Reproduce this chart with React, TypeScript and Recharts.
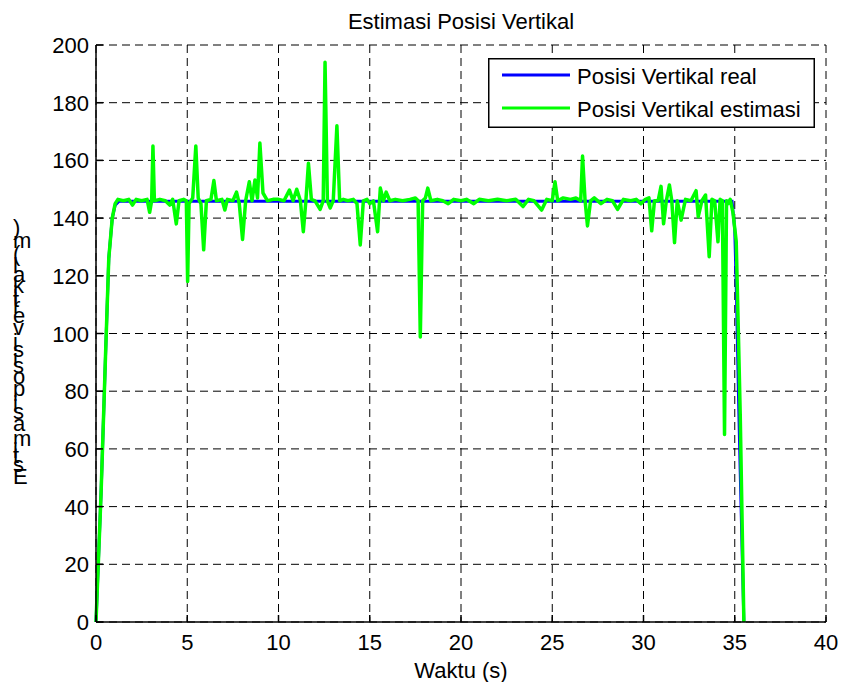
import React from 'react'
import { LineChart, Line, XAxis, YAxis, CartesianGrid, Legend } from 'recharts'

// Posisi Vertikal real (blue)
const realTime = [0, 0.28, 0.52, 0.7, 0.89, 1.05, 1.25, 34.85, 35.0, 35.1, 35.2, 35.3, 35.4, 35.5]
const realPos = [0, 45, 92, 126, 140, 144.5, 145.8, 145.8, 136, 112, 80, 52, 26, 0]

// Posisi Vertikal estimasi (green)
const estTime = [
  0, 0.28, 0.52, 0.7, 0.89, 1.05, 1.2, 1.5, 1.8, 2.0, 2.2, 2.5, 2.8, 2.94, 3.05, 3.12, 3.2, 3.5,
  3.8, 4.04, 4.2, 4.4, 4.55, 4.8, 4.95, 5.02, 5.1, 5.3, 5.47, 5.6, 5.75, 5.9, 6.05, 6.3, 6.46,
  6.6, 6.9, 7.06, 7.2, 7.5, 7.7, 7.85, 8.03, 8.2, 8.4, 8.55, 8.71, 8.85, 8.98, 9.15, 9.4, 9.7,
  10.0, 10.3, 10.6, 10.8, 11.0, 11.2, 11.36, 11.5, 11.64, 11.8, 12.0, 12.28, 12.45, 12.55, 12.68,
  12.83, 13.0, 13.2, 13.35, 13.55, 13.8, 14.1, 14.3, 14.48, 14.65, 14.85, 15.0, 15.2, 15.43,
  15.58, 15.75, 15.9, 16.1, 16.4, 16.8, 17.2, 17.5, 17.65, 17.77, 17.9, 18.05, 18.18, 18.35,
  18.7, 19.0, 19.3, 19.6, 20.0, 20.3, 20.7, 21.0, 21.5, 22.0, 22.5, 23.0, 23.4, 23.7, 24.0,
  24.42, 24.7, 25.0, 25.15, 25.3, 25.6, 26.0, 26.3, 26.56, 26.66, 26.8, 26.93, 27.1, 27.3,
  27.67, 28.0, 28.3, 28.58, 28.9, 29.3, 29.6, 29.86, 30.1, 30.3, 30.45, 30.6, 30.8, 30.96,
  31.1, 31.25, 31.42, 31.55, 31.7, 31.85, 32.06, 32.3, 32.6, 32.88, 33.0, 33.2, 33.4, 33.6,
  33.75, 33.9, 34.08, 34.2, 34.32, 34.44, 34.55, 34.63, 34.75, 34.9, 35.08, 35.2, 35.3, 35.4,
  35.5,
]
const estPos = [
  0, 45, 92, 126, 140, 145, 146.5, 146, 146.5, 144.5, 146.5, 146, 146.5, 142, 146, 165, 146,
  146.5, 146, 144.5, 146.5, 138, 146, 146.5, 146, 118, 145, 147, 165, 147, 145, 129, 146,
  146.5, 153, 146, 146.5, 142.8, 146.5, 146, 149, 145, 132.6, 146, 152.6, 146, 153.2, 147,
  166, 148.7, 146, 146.5, 146.5, 146, 149.7, 146, 150, 146, 135.3, 146, 159, 146.5, 146, 143,
  146, 194, 146, 143.5, 146, 172, 146, 146.5, 146, 146.5, 145, 130.7, 146, 146.5, 145, 146,
  135.3, 150.4, 146, 149, 146, 146.5, 146, 146.5, 147, 146, 98.8, 146, 147, 150.4, 146, 146.5,
  146, 145, 146.5, 146, 146.5, 145, 146.5, 146, 146.5, 146, 146.5, 144, 146.5, 146, 142.8,
  146.5, 146, 152.6, 146, 147, 146.5, 147, 146, 161.5, 146, 137.3, 146, 147, 145, 146.5, 146,
  143, 146.5, 146, 146.5, 145, 146.5, 147, 135.6, 146, 146, 151, 138, 146, 151.5, 146, 131.5,
  146, 139.3, 146.5, 146, 149.5, 140.5, 146, 148, 126.6, 146.5, 146, 131.8, 146.5, 146, 65,
  146, 145, 146.5, 142, 132, 100, 72, 36, 0,
]

const xTicks = [0, 5, 10, 15, 20, 25, 30, 35, 40]
const yTicks = [0, 20, 40, 60, 80, 100, 120, 140, 160, 180, 200]

const realData = realTime.map((t, i) => ({ t, v: realPos[i] }))
const estData = estTime.map((t, i) => ({ t, v: estPos[i] }))

const FONT = '"Liberation Sans", Arial, Helvetica, sans-serif'
const FS = 22
const TICK = 7

// Arial advance widths (em) for the stacked y label
const charW: Record<string, number> = {
  E: 0.667, s: 0.5, t: 0.278, i: 0.222, m: 0.833, a: 0.556, ' ': 0.278, p: 0.556, o: 0.556,
  v: 0.5, e: 0.556, r: 0.333, k: 0.5, l: 0.222, '(': 0.333, ')': 0.333,
}
const yLabel = 'Estimasi posisi vertikal (m)'

function StackedYLabel() {
  const chars = yLabel.split('')
  let cum = 0
  const bottom = 477 + 0.333 * FS
  return (
    <g>
      {chars.map((c, i) => {
        const w = (charW[c] ?? 0.5) * FS
        const cy = bottom - cum - w / 2
        cum += w
        return (
          <text key={i} x={13} y={cy + 7.5} fontSize={FS} fill="#000">
            {c}
          </text>
        )
      })}
    </g>
  )
}

function BottomTick({ x, y, payload }: any) {
  return (
    <g>
      <line x1={x} x2={x} y1={y} y2={y - TICK} stroke="#000" strokeWidth={1.5} />
      <text x={x} y={y + 28} textAnchor="middle" fontSize={FS} fill="#000">
        {payload.value}
      </text>
    </g>
  )
}

function TopTick({ x, y }: any) {
  return <line x1={x} x2={x} y1={y} y2={y + TICK} stroke="#000" strokeWidth={1.5} />
}

function LeftTick({ x, y, payload }: any) {
  return (
    <g>
      <line x1={x} x2={x + TICK} y1={y} y2={y} stroke="#000" strokeWidth={1.5} />
      <text x={x - 7} y={y + 8} textAnchor="end" fontSize={FS} fill="#000">
        {payload.value}
      </text>
    </g>
  )
}

function RightTick({ x, y }: any) {
  return <line x1={x} x2={x - TICK} y1={y} y2={y} stroke="#000" strokeWidth={1.5} />
}

function LegendBox() {
  return (
    <svg width={327} height={70} style={{ display: 'block' }}>
      <rect x={0.75} y={0.75} width={325.5} height={68.5} fill="#fff" stroke="#000" strokeWidth={1.5} />
      <line x1={14} x2={82} y1={17} y2={17} stroke="#0000ff" strokeWidth={3} />
      <text x={89} y={26} fontSize={FS} fontFamily={FONT} fill="#000">
        Posisi Vertikal real
      </text>
      <line x1={14} x2={82} y1={50} y2={50} stroke="#00ff00" strokeWidth={3} />
      <text x={89} y={59} fontSize={FS} fontFamily={FONT} fill="#000">
        Posisi Vertikal estimasi
      </text>
    </svg>
  )
}

export default function App() {
  return (
    <div
      style={{
        position: 'absolute',
        left: 0,
        top: 0,
        width: 843,
        height: 682,
        background: '#fff',
        fontFamily: FONT,
      }}
    >
      <LineChart width={843} height={682} margin={{ top: 45, right: 17, bottom: 0, left: 0 }}>
        <CartesianGrid stroke="#000" strokeDasharray="8 5" strokeWidth={1} />
        <XAxis
          dataKey="t"
          type="number"
          domain={[0, 40]}
          ticks={xTicks}
          height={60}
          tickSize={0}
          tickMargin={0}
          tickLine={false}
          axisLine={{ stroke: '#000', strokeWidth: 1.5 }}
          tick={<BottomTick />}
          interval={0}
        />
        <XAxis
          xAxisId="top"
          orientation="top"
          dataKey="t"
          type="number"
          domain={[0, 40]}
          ticks={xTicks}
          height={0}
          tickSize={0}
          tickMargin={0}
          tickLine={false}
          axisLine={{ stroke: '#000', strokeWidth: 1.5 }}
          tick={<TopTick />}
          interval={0}
        />
        <YAxis
          type="number"
          domain={[0, 200]}
          ticks={yTicks}
          width={96}
          tickSize={0}
          tickMargin={0}
          tickLine={false}
          axisLine={{ stroke: '#000', strokeWidth: 1.5 }}
          tick={<LeftTick />}
          interval={0}
        />
        <YAxis
          yAxisId="right"
          orientation="right"
          type="number"
          domain={[0, 200]}
          ticks={yTicks}
          width={0}
          tickSize={0}
          tickMargin={0}
          tickLine={false}
          axisLine={{ stroke: '#000', strokeWidth: 1.5 }}
          tick={<RightTick />}
          interval={0}
        />
        <Legend
          layout="horizontal"
          verticalAlign="middle"
          align="center"
          content={() => <LegendBox />}
          wrapperStyle={{ position: 'absolute', left: 488, top: 58, width: 327, height: 70 }}
        />
        <Line
          data={realData}
          dataKey="v"
          name="Posisi Vertikal real"
          type="linear"
          stroke="#0000ff"
          strokeWidth={3}
          dot={false}
          activeDot={false}
          isAnimationActive={false}
        />
        <Line
          data={estData}
          dataKey="v"
          name="Posisi Vertikal estimasi"
          type="linear"
          stroke="#00ff00"
          strokeWidth={3.5}
          strokeLinejoin="round"
          dot={false}
          activeDot={false}
          isAnimationActive={false}
        />
      </LineChart>
      <svg
        width={843}
        height={682}
        style={{ position: 'absolute', left: 0, top: 0, pointerEvents: 'none' }}
        fontFamily={FONT}
      >
        <text x={461} y={29} textAnchor="middle" fontSize={FS} fill="#000">
          Estimasi Posisi Vertikal
        </text>
        <text x={461} y={678} textAnchor="middle" fontSize={FS} fill="#000">
          Waktu (s)
        </text>
        <StackedYLabel />
      </svg>
    </div>
  )
}
